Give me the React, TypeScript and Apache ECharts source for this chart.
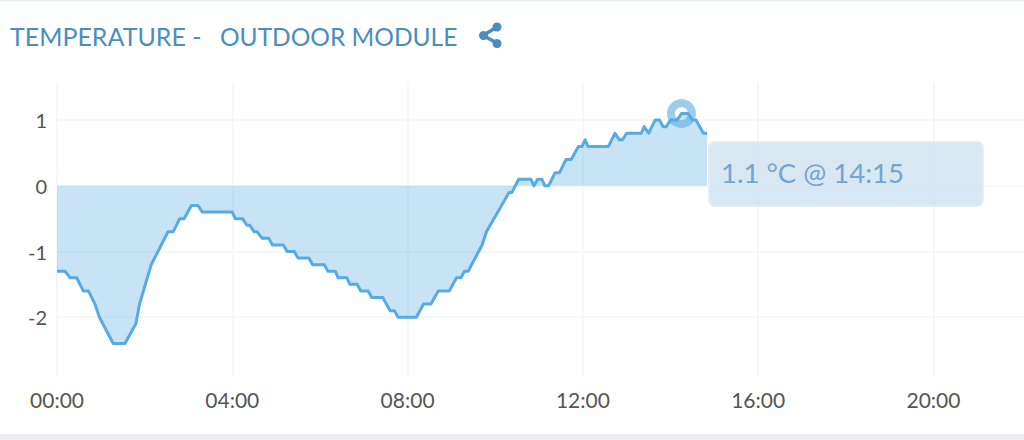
import React, { useEffect, useRef } from "react";
import * as echarts from "echarts";

const FONT = "Lato, 'Open Sans', sans-serif";
const times = [0,11,18,27,36,43,52,58,77,93,108,113,129,152,159,168,174,184,193,199,240,244,254,260,264,270,274,281,290,295,310,315,325,330,345,350,366,371,381,385,397,401,411,416,426,431,446,456,462,467,492,502,512,522,537,547,553,558,563,582,588,619,623,632,649,653,658,664,668,673,682,688,697,704,714,719,723,727,755,764,770,774,780,800,804,810,819,825,830,834,840,849,855,864,870,875,885,890];
const temps = [-1.3,-1.3,-1.4,-1.4,-1.6,-1.6,-1.8,-2,-2.4,-2.4,-2.1,-1.8,-1.2,-0.7,-0.7,-0.5,-0.5,-0.3,-0.3,-0.4,-0.4,-0.5,-0.5,-0.6,-0.6,-0.7,-0.7,-0.8,-0.8,-0.9,-0.9,-1,-1,-1.1,-1.1,-1.2,-1.2,-1.3,-1.3,-1.4,-1.4,-1.5,-1.5,-1.6,-1.6,-1.7,-1.7,-1.9,-1.9,-2,-2,-1.8,-1.8,-1.6,-1.6,-1.4,-1.4,-1.3,-1.3,-0.9,-0.7,-0.1,-0.1,0.1,0.1,0,0.1,0.1,0,0,0.2,0.2,0.4,0.4,0.6,0.6,0.7,0.6,0.6,0.8,0.7,0.7,0.8,0.8,0.9,0.8,1,1,0.9,0.9,1,1,1.1,1.1,1,1,0.8,0.8];
const highlightTime = [855];
const highlightTemp = [1.1];
const xTicks = [0, 240, 480, 720, 960, 1200];
const yTicks = [-2, -1, 0, 1];
const titleLeft = "TEMPERATURE -";
const titleRight = "OUTDOOR MODULE";
const tooltipText = "1.1 °C @ 14:15";

const series = times.map((t, i) => [t, temps[i]]);
const fmt = (v: number) => String(Math.floor(v / 60)).padStart(2, "0") + ":" + String(v % 60).padStart(2, "0");
const gridColor = "#f6f7f8";

export default function App() {
  const ref = useRef<HTMLDivElement>(null);
  useEffect(() => {
    document.body.style.margin = "0";
    const chart = echarts.init(ref.current!, null, { renderer: "svg" });
    const ic = "#4a8dc0";
    chart.setOption({
      animation: false,
      grid: { left: 57, right: 0, top: 82, bottom: 63 },
      xAxis: {
        type: "value", min: 0, max: 1324,
        axisLine: { show: false },
        axisTick: { show: false, customValues: xTicks },
        splitLine: { show: true, lineStyle: { color: gridColor, width: 2 } },
        axisLabel: { color: "#555", fontSize: 21, fontFamily: FONT, margin: 12, customValues: xTicks, formatter: (v: number) => fmt(v) },
      },
      yAxis: {
        type: "value", min: -2.91, max: 1.58,
        axisLine: { show: false },
        axisTick: { show: false, customValues: yTicks },
        splitLine: { show: true, lineStyle: { color: gridColor, width: 2 } },
        axisLabel: { color: "#555", fontSize: 20, fontFamily: FONT, margin: 10, customValues: yTicks },
      },
      series: [
        {
          type: "scatter", data: highlightTime.map((t, i) => [t, highlightTemp[i]]), symbol: "circle", symbolSize: 21,
          itemStyle: { color: "#ffffff", borderColor: "#9dcdec", borderWidth: 8, opacity: 1 }, z: 2,
        },
        {
          type: "line", data: series, symbol: "none", z: 3,
          lineStyle: { color: "#55abe2", width: 3, join: "round" },
          areaStyle: { color: "rgba(85,171,226,0.33)", origin: 0, opacity: 1 },
        },
      ],
      graphic: [
        { type: "rect", x: 0, y: 0, shape: { width: 1024, height: 1.5 }, style: { fill: "#e8edf6" }, z: 10 },
        { type: "rect", x: 0, y: 434, shape: { width: 1024, height: 6 }, style: { fill: "#e9edf5" }, z: 10 },
        { type: "text", x: 10, y: 36, style: { text: titleLeft, fill: ic, font: `25px ${FONT}`, textVerticalAlign: "middle" }, z: 10 },
        { type: "text", x: 220, y: 36, style: { text: titleRight, fill: ic, font: `24.5px ${FONT}`, textVerticalAlign: "middle" }, z: 10 },
        { type: "line", shape: { x1: 483, y1: 35.5, x2: 497, y2: 27 }, style: { stroke: ic, lineWidth: 3.5 }, z: 10 },
        { type: "line", shape: { x1: 483, y1: 35.5, x2: 497, y2: 43 }, style: { stroke: ic, lineWidth: 3.5 }, z: 10 },
        { type: "circle", shape: { cx: 483.5, cy: 35.5, r: 4.5 }, style: { fill: ic }, z: 10 },
        { type: "circle", shape: { cx: 497, cy: 27, r: 4.5 }, style: { fill: ic }, z: 10 },
        { type: "circle", shape: { cx: 497, cy: 43.5, r: 4.5 }, style: { fill: ic }, z: 10 },
        { type: "rect", x: 709, y: 142, shape: { width: 274, height: 64, r: 6 }, style: { fill: "rgba(203,224,238,0.75)", stroke: "#e8ecef", lineWidth: 2 }, z: 10 },
        { type: "text", x: 721, y: 172, style: { text: tooltipText, fill: "#72a5cf", font: `27.5px ${FONT}`, textVerticalAlign: "middle" }, z: 11 },
      ],
    });
    return () => chart.dispose();
  }, []);
  return <div ref={ref} style={{ width: 1024, height: 440 }} />;
}
